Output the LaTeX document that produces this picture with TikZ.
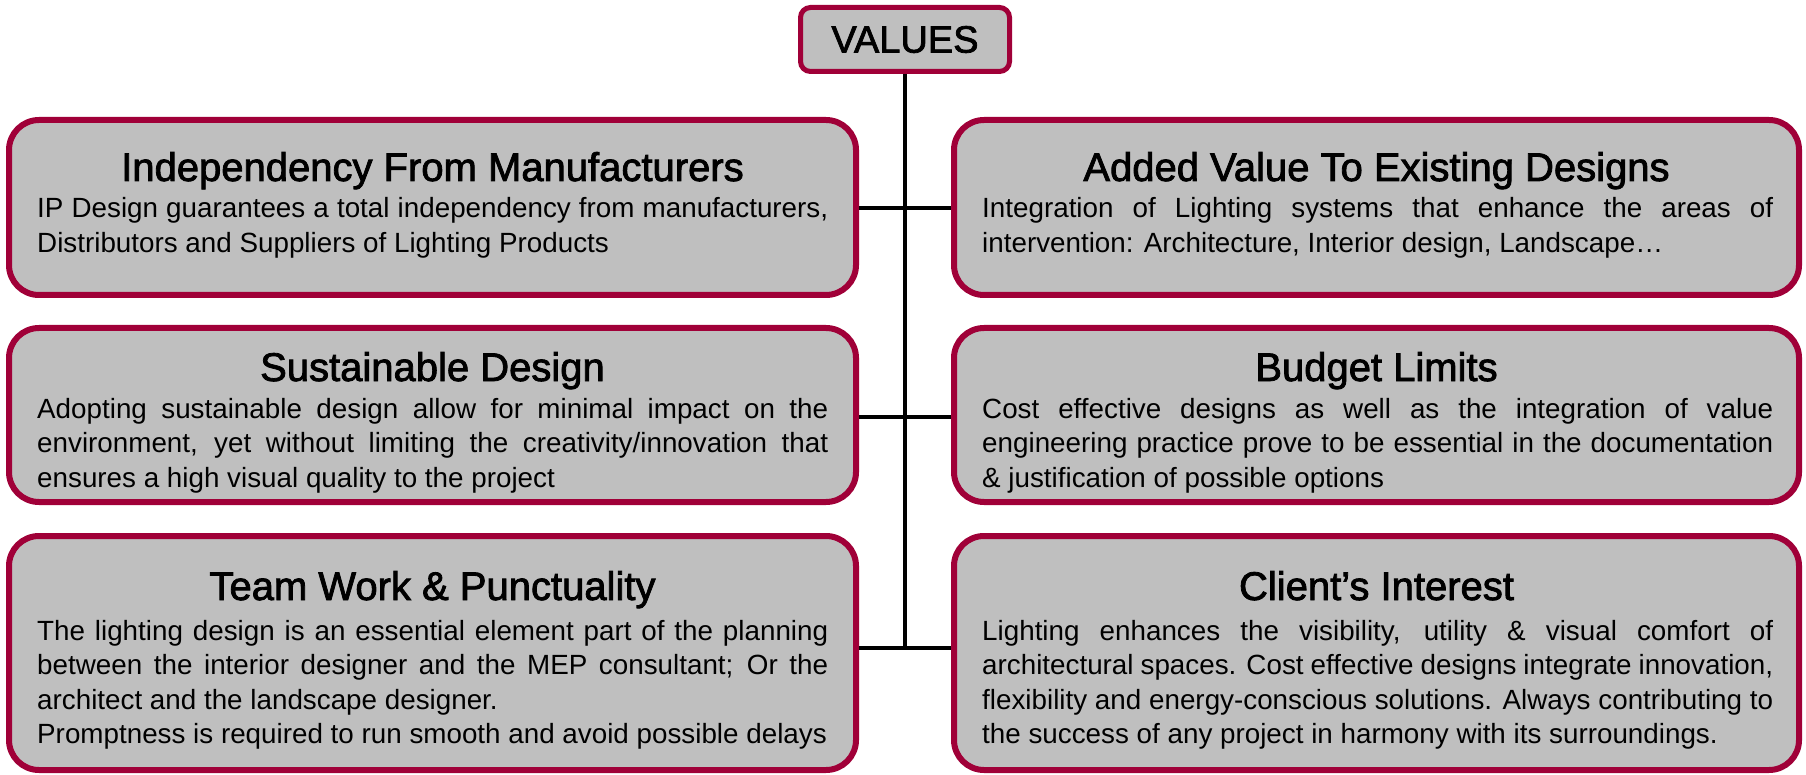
\documentclass[tikz,border=0pt]{standalone}
\usepackage{fontspec}
\setmainfont{Liberation Sans}
\newfontfamily\headfont{Liberation Sans}[FakeBold=2]
\definecolor{crim}{HTML}{A00038}
\definecolor{boxgray}{HTML}{BFBFBF}
\newlength\bodyw \setlength\bodyw{791pt}
\newcommand\jline[1]{\noindent\makebox[\bodyw][s]{#1}\par}
\newcommand\lline[1]{\noindent #1\par}
\newcommand\bodytext[1]{\parbox[t]{\bodyw}{\fontsize{27.8}{34.5}\selectfont #1}}
\begin{document}
\begin{tikzpicture}[x=1pt,y=-1pt,
  valbox/.style={draw=crim, fill=boxgray, line width=5pt, rounded corners=10pt,
    minimum width=209pt, minimum height=64pt, inner sep=0pt,
    font=\headfont\fontsize{38}{40}\selectfont},
  infobox/.style={draw=crim, fill=boxgray, line width=6pt, rounded corners=30pt,
    minimum width=847pt, inner sep=0pt},
  titletext/.style={anchor=base, inner sep=0pt, font=\headfont\fontsize{40}{44}\selectfont},
  bodynode/.style={anchor=base west, inner sep=0pt},
  link/.style={draw=black, line width=3.2pt}]
\useasboundingbox[fill=white] (0,0) rectangle (1806,775);

% top node
\node[valbox] (V) at (905,39.5) {VALUES};

% boxes
\node[infobox, minimum height=175pt] (L1) at (432.5,207.5) {};
\node[infobox, minimum height=174pt] (L2) at (432.5,415) {};
\node[infobox, minimum height=234pt] (L3) at (432.5,653) {};
\node[infobox, minimum width=845pt, minimum height=175pt] (R1) at (1376.5,207.5) {};
\node[infobox, minimum width=845pt, minimum height=174pt] (R2) at (1376.5,415) {};
\node[infobox, minimum width=845pt, minimum height=234pt] (R3) at (1376.5,653) {};

% connectors
\coordinate (j1) at (905,208);
\coordinate (j2) at (905,417);
\coordinate (j3) at (905,648);
\draw[link] (V.south) -- (j3);
\draw[link] (L1.east |- j1) -- (R1.west |- j1);
\draw[link] (L2.east |- j2) -- (R2.west |- j2);
\draw[link] (L3.east |- j3) -- (R3.west |- j3);

% texts left
\node[titletext] (L1t) at (432.5,181) {Independency From Manufacturers};
\node[bodynode] (L1b) at (37,218) {\bodytext{%
  \jline{IP Design guarantees a total independency from manufacturers,}
  \lline{Distributors and Suppliers of Lighting Products}}};

\node[titletext] (L2t) at (432.5,381) {Sustainable Design};
\node[bodynode] (L2b) at (37,418) {\bodytext{%
  \jline{Adopting sustainable design allow for minimal impact on the}
  \jline{environment, yet without limiting the creativity/innovation that}
  \lline{ensures a high visual quality to the project}}};

\node[titletext] (L3t) at (432.5,600) {Team Work \& Punctuality};
\node[bodynode] (L3b) at (37,640) {\bodytext{%
  \jline{The lighting design is an essential element part of the planning}
  \jline{between the interior designer and the MEP consultant; Or the}
  \lline{architect and the landscape designer.}
  \lline{Promptness is required to run smooth and avoid possible delays}}};

% texts right
\node[titletext] (R1t) at (1376.5,181) {Added Value To Existing Designs};
\node[bodynode] (R1b) at (982,218) {\bodytext{%
  \jline{Integration of Lighting systems that enhance the areas of}
  \lline{intervention: Architecture, Interior design, Landscape…}}};

\node[titletext] (R2t) at (1376.5,381) {Budget Limits};
\node[bodynode] (R2b) at (982,418) {\bodytext{%
  \jline{Cost effective designs as well as the integration of value}
  \jline{engineering practice prove to be essential in the documentation}
  \lline{\& justification of possible options}}};

\node[titletext] (R3t) at (1376.5,600) {Client’s Interest};
\node[bodynode] (R3b) at (982,640) {\bodytext{%
  \jline{Lighting enhances the visibility, utility \& visual comfort of}
  \jline{architectural spaces. Cost effective designs integrate innovation,}
  \jline{flexibility and energy-conscious solutions. Always contributing to}
  \lline{the success of any project in harmony with its surroundings.}}};
\end{tikzpicture}
\end{document}
